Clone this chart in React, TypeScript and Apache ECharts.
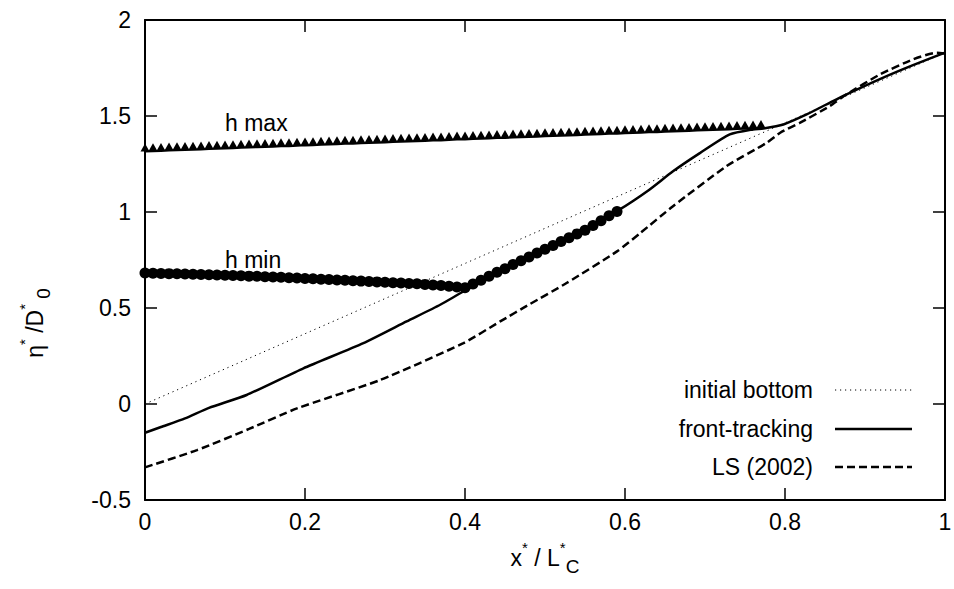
import React, { useEffect, useRef } from "react";
import * as echarts from "echarts";

// ---- data ----
const initialBottomX = [0, 1];
const initialBottomY = [0, 1.83];

const frontX = [0, 0.02, 0.05, 0.08, 0.127, 0.198, 0.273, 0.327, 0.369, 0.398, 0.45, 0.5, 0.55, 0.592, 0.63, 0.66, 0.694, 0.731, 0.76, 0.773, 0.798, 0.827, 0.86, 0.877, 0.92, 0.96, 1.0];
const frontY = [-0.15, -0.12, -0.075, -0.02, 0.047, 0.186, 0.317, 0.43, 0.517, 0.586, 0.7, 0.81, 0.915, 1.01, 1.115, 1.212, 1.308, 1.404, 1.43, 1.435, 1.456, 1.508, 1.578, 1.613, 1.695, 1.765, 1.83];

const lsX = [0, 0.065, 0.13, 0.19, 0.294, 0.398, 0.444, 0.481, 0.527, 0.59, 0.619, 0.66, 0.727, 0.777, 0.794, 0.819, 0.856, 0.877, 0.919, 0.96, 0.99, 1.0];
const lsY = [-0.33, -0.24, -0.13, -0.023, 0.125, 0.317, 0.43, 0.52, 0.63, 0.795, 0.89, 1.03, 1.239, 1.36, 1.413, 1.465, 1.552, 1.613, 1.717, 1.795, 1.83, 1.825];

const stepX = [
  0, 0.01, 0.02, 0.03, 0.04, 0.05, 0.06, 0.07, 0.08, 0.09,
  0.1, 0.11, 0.12, 0.13, 0.14, 0.15, 0.16, 0.17, 0.18, 0.19,
  0.2, 0.21, 0.22, 0.23, 0.24, 0.25, 0.26, 0.27, 0.28, 0.29,
  0.3, 0.31, 0.32, 0.33, 0.34, 0.35, 0.36, 0.37, 0.38, 0.39,
  0.4, 0.41, 0.42, 0.43, 0.44, 0.45, 0.46, 0.47, 0.48, 0.49,
  0.5, 0.51, 0.52, 0.53, 0.54, 0.55, 0.56, 0.57, 0.58, 0.59,
  0.6, 0.61, 0.62, 0.63, 0.64, 0.65, 0.66, 0.67, 0.68, 0.69,
  0.7, 0.71, 0.72, 0.73, 0.74, 0.75, 0.76, 0.77,
];

const hMaxY = [
  1.315, 1.317, 1.318, 1.32, 1.321, 1.323, 1.324, 1.326, 1.328, 1.329,
  1.331, 1.332, 1.334, 1.336, 1.337, 1.339, 1.34, 1.342, 1.343, 1.345,
  1.347, 1.348, 1.35, 1.351, 1.353, 1.355, 1.356, 1.358, 1.359, 1.361,
  1.362, 1.364, 1.366, 1.367, 1.369, 1.37, 1.372, 1.373, 1.375, 1.377,
  1.378, 1.38, 1.381, 1.383, 1.385, 1.386, 1.388, 1.389, 1.391, 1.392,
  1.394, 1.396, 1.397, 1.399, 1.4, 1.402, 1.403, 1.405, 1.407, 1.408,
  1.41, 1.411, 1.413, 1.415, 1.416, 1.418, 1.419, 1.421, 1.422, 1.424,
  1.426, 1.427, 1.429, 1.43, 1.432, 1.434, 1.435, 1.437,
];

const hMinY = [
  0.682, 0.681, 0.68, 0.679, 0.678, 0.677, 0.676, 0.675, 0.673, 0.672,
  0.671, 0.669, 0.668, 0.666, 0.665, 0.663, 0.661, 0.66, 0.658, 0.656,
  0.654, 0.652, 0.65, 0.648, 0.646, 0.644, 0.642, 0.64, 0.638, 0.636,
  0.634, 0.632, 0.63, 0.628, 0.626, 0.623, 0.62, 0.617, 0.613, 0.609,
  0.605, 0.625, 0.645, 0.665, 0.686, 0.705, 0.726, 0.746, 0.766, 0.786,
  0.806, 0.826, 0.846, 0.866, 0.886, 0.905, 0.93, 0.955, 0.98, 1.003,
];

const xTicks = { min: 0, max: 1, interval: 0.2 };
const yTicks = { min: -0.5, max: 2, interval: 0.5 };

const legendNames = ["initial bottom", "front-tracking", "LS (2002)"];
const xTitle = "{m|x}{s|*}{m| / L}{s|*}{b|C}";
const yTitle = "{m|\u03b7}{s|*}{m| /D}{s|*}{b| 0}";

const FONT = "Liberation Sans, Arial, Helvetica, sans-serif";
const FS = 23;

const pairs = (xs: number[], ys: number[]) => ys.map((y, i) => [xs[i], y]);

export default function App() {
  const ref = useRef<HTMLDivElement>(null);

  useEffect(() => {
    if (!ref.current) return;
    const chart = echarts.init(ref.current, undefined, { renderer: "svg" });

    const axisLine = { show: true, onZero: false, lineStyle: { color: "#000", width: 2 } };
    const tick = { show: true, inside: true, length: 12, lineStyle: { color: "#000", width: 1.5 } };
    const label = { color: "#000", fontSize: FS, fontFamily: FONT };

    const rich = {
      m: { fontSize: FS, fontFamily: FONT, color: "#000", lineHeight: 36 },
      s: { fontSize: 15, fontFamily: FONT, color: "#000", lineHeight: 16, verticalAlign: "top" },
      b: { fontSize: 19, fontFamily: FONT, color: "#000", lineHeight: 20, verticalAlign: "bottom" },
    };

    const legendRowsY = [390, 429, 467];
    const legendLineStyles = [
      { stroke: "#000", lineWidth: 1, lineDash: [1.2, 3.8] },
      { stroke: "#000", lineWidth: 2.5 },
      { stroke: "#000", lineWidth: 2.5, lineDash: [8, 4] },
    ];

    const graphic: any[] = [];
    legendNames.forEach((name, i) => {
      graphic.push({
        type: "text",
        x: 813,
        y: legendRowsY[i],
        style: { text: name, fill: "#000", font: `${FS}px ${FONT}`, align: "right", verticalAlign: "middle" },
      });
      graphic.push({
        type: "line",
        shape: { x1: 835, y1: legendRowsY[i], x2: 912, y2: legendRowsY[i] },
        style: legendLineStyles[i],
      });
    });

    graphic.push({
      type: "text",
      x: 225,
      y: 123,
      style: { text: "h max", fill: "#000", font: `${FS}px ${FONT}`, verticalAlign: "middle" },
    });
    graphic.push({
      type: "text",
      x: 225,
      y: 260,
      style: { text: "h min", fill: "#000", font: `${FS}px ${FONT}`, verticalAlign: "middle" },
    });

    chart.setOption({
      animation: false,
      backgroundColor: "#fff",
      grid: { left: 145, right: 9, top: 20, bottom: 89, containLabel: false, outerBoundsMode: "none" },
      xAxis: [
        {
          type: "value",
          ...xTicks,
          position: "bottom",
          axisLine,
          axisTick: tick,
          splitLine: { show: false },
          axisLabel: { ...label, margin: 10 },
          name: xTitle,
          nameLocation: "middle",
          nameGap: 40,
          nameTextStyle: { rich },
        },
        {
          type: "value",
          ...xTicks,
          position: "top",
          axisLine,
          axisTick: tick,
          splitLine: { show: false },
          axisLabel: { show: false },
        },
      ],
      yAxis: [
        {
          type: "value",
          ...yTicks,
          position: "left",
          axisLine,
          axisTick: tick,
          splitLine: { show: false },
          axisLabel: { ...label, margin: 14 },
          name: yTitle,
          nameLocation: "middle",
          nameRotate: 90,
          nameGap: 92,
          nameTextStyle: { rich, padding: [0, 126, 0, 0] },
        },
        {
          type: "value",
          ...yTicks,
          position: "right",
          axisLine,
          axisTick: tick,
          splitLine: { show: false },
          axisLabel: { show: false },
        },
      ],
      series: [
        {
          name: legendNames[0],
          type: "line",
          data: pairs(initialBottomX, initialBottomY),
          showSymbol: false,
          symbol: "none",
          lineStyle: { color: "#000", width: 1, type: [1.2, 3.8] },
          z: 2,
        },
        {
          name: legendNames[1],
          type: "line",
          data: pairs(frontX, frontY),
          symbol: "none",
          smooth: 0.2,
          lineStyle: { color: "#000", width: 2.5 },
          z: 3,
        },
        {
          name: legendNames[2],
          type: "line",
          data: pairs(lsX, lsY),
          symbol: "none",
          smooth: 0.2,
          lineStyle: { color: "#000", width: 2.5, type: [8, 4] },
          z: 3,
        },
        {
          name: "h max",
          type: "line",
          data: pairs(stepX, hMaxY),
          symbol: "triangle",
          symbolSize: [9, 8],
          symbolOffset: [0, -4],
          itemStyle: { color: "#000" },
          lineStyle: { color: "#000", width: 2 },
          z: 4,
        },
        {
          name: "h min",
          type: "line",
          data: pairs(stepX.slice(0, hMinY.length), hMinY),
          symbol: "circle",
          symbolSize: 11,
          itemStyle: { color: "#000" },
          lineStyle: { color: "#000", width: 2 },
          z: 4,
        },
      ],
      graphic,
    });

    return () => chart.dispose();
  }, []);

  return <div ref={ref} style={{ position: "fixed", left: 0, top: 0, width: 954, height: 589 }} />;
}
